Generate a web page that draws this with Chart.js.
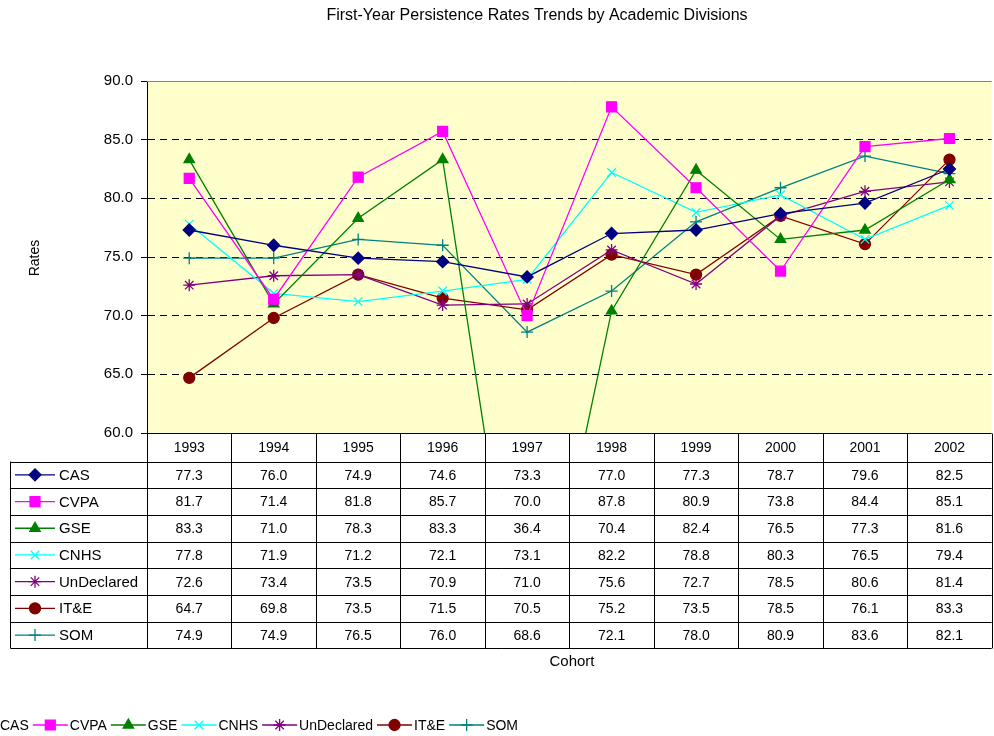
<!DOCTYPE html>
<html>
<head>
<meta charset="utf-8">
<script src="https://cdn.jsdelivr.net/npm/chart.js@4/dist/chart.umd.min.js"></script>
<style>
  html, body { margin:0; padding:0; background:#fff; overflow:hidden; }
  #wrap { width:1000px; height:736px; }
</style>
</head>
<body>
<div id="wrap"><canvas id="chart" width="1000" height="736"></canvas></div>
<script>
const cohorts = ['1993','1994','1995','1996','1997','1998','1999','2000','2001','2002'];
const divisions = ['CAS','CVPA','GSE','CNHS','UnDeclared','IT&E','SOM'];
const cas        = [77.3,76.0,74.9,74.6,73.3,77.0,77.3,78.7,79.6,82.5];
const cvpa       = [81.7,71.4,81.8,85.7,70.0,87.8,80.9,73.8,84.4,85.1];
const gse        = [83.3,71.0,78.3,83.3,36.4,70.4,82.4,76.5,77.3,81.6];
const cnhs       = [77.8,71.9,71.2,72.1,73.1,82.2,78.8,80.3,76.5,79.4];
const undeclared = [72.6,73.4,73.5,70.9,71.0,75.6,72.7,78.5,80.6,81.4];
const ite        = [64.7,69.8,73.5,71.5,70.5,75.2,73.5,78.5,76.1,83.3];
const som        = [74.9,74.9,76.5,76.0,68.6,72.1,78.0,80.9,83.6,82.1];
const yTicks = [60,65,70,75,80,85,90];

const seriesValues = [cas, cvpa, gse, cnhs, undeclared, ite, som];
const colors = ['#000080','#ff00ff','#008000','#00ffff','#800080','#800000','#008080'];
const styles = ['rectRot','rect','triangle','crossRot','star','circle','cross'];
const radii  = [6,7,6,6,6,5.5,6];

const FONT = '"Liberation Sans", Arial, sans-serif';
Chart.defaults.font.family = FONT;
Chart.defaults.color = '#000';

function marker(ctx, i, x, y){
  ctx.save();
  ctx.fillStyle = colors[i];
  ctx.strokeStyle = colors[i];
  ctx.lineWidth = 1.3;
  Chart.helpers.drawPoint(ctx, {pointStyle: styles[i], radius: radii[i], rotation: 0, borderWidth: 1.3}, x, y);
  ctx.restore();
}

// plot background + top border
const bgPlugin = {
  id: 'bg',
  beforeDraw(chart){
    const {ctx, chartArea: a} = chart;
    ctx.save();
    ctx.fillStyle = '#ffffcc';
    ctx.fillRect(a.left, a.top, a.right - a.left, a.bottom - a.top);
    ctx.restore();
  },
  afterDatasetsDraw(chart){
    const {ctx, chartArea: a} = chart;
    ctx.save();
    ctx.strokeStyle = '#808080';
    ctx.lineWidth = 1;
    ctx.beginPath();
    ctx.moveTo(a.left, a.top + 0.5);
    ctx.lineTo(a.right, a.top + 0.5);
    ctx.stroke();
    ctx.restore();
  }
};

// data table, titles, legend
const tablePlugin = {
  id: 'table',
  afterDraw(chart){
    const {ctx, chartArea: a} = chart;
    const xs = chart.scales.x;
    const top = Math.round(a.bottom) + 0.5;
    const headH = 28;
    const rowH = 26.7;
    const labelLeft = 10.5;
    const bottom = top + headH + rowH * divisions.length;
    const colW = (a.right - a.left) / cohorts.length;

    ctx.save();
    ctx.strokeStyle = '#000';
    ctx.lineWidth = 1;
    ctx.beginPath();
    ctx.moveTo(a.left, top); ctx.lineTo(a.right, top);
    for (let r = 0; r <= divisions.length; r++){
      const y = Math.round(top + headH + r * rowH) + 0.5;
      ctx.moveTo(labelLeft, y); ctx.lineTo(a.right, y);
    }
    for (let c = 0; c <= cohorts.length; c++){
      const x = Math.round(a.left + c * colW) + 0.5;
      ctx.moveTo(x, top); ctx.lineTo(x, bottom);
    }
    ctx.moveTo(labelLeft, top + headH); ctx.lineTo(labelLeft, bottom);
    ctx.stroke();

    ctx.font = '14px ' + FONT;
    ctx.fillStyle = '#000';
    ctx.textAlign = 'center';
    ctx.textBaseline = 'middle';
    cohorts.forEach((c, j) => {
      ctx.fillText(c, xs.getPixelForValue(j), top + headH / 2 + 1);
    });
    divisions.forEach((d, i) => {
      const yc = top + headH + rowH * i + rowH / 2 + 1;
      seriesValues[i].forEach((v, j) => {
        ctx.fillStyle = '#000';
        ctx.textAlign = 'center';
        ctx.fillText(v.toFixed(1), xs.getPixelForValue(j), yc);
      });
      ctx.strokeStyle = colors[i];
      ctx.lineWidth = 1.3;
      ctx.beginPath(); ctx.moveTo(15, yc - 1); ctx.lineTo(55, yc - 1); ctx.stroke();
      marker(ctx, i, 35, yc - 1);
      ctx.fillStyle = '#000';
      ctx.textAlign = 'left';
      ctx.font = '15px ' + FONT;
      ctx.fillText(d, 59, yc);
      ctx.font = '14px ' + FONT;
    });

    // title and axis titles
    ctx.textAlign = 'center';
    ctx.font = '16px ' + FONT;
    ctx.fillText('First-Year Persistence Rates Trends by Academic Divisions', 537, 16);
    ctx.font = '15px ' + FONT;
    ctx.fillText('Cohort', 572, 662);
    ctx.font = '14px ' + FONT;
    ctx.save();
    ctx.translate(35, 258);
    ctx.rotate(-Math.PI / 2);
    ctx.fillText('Rates', 0, 0);
    ctx.restore();

    // bottom legend (runs off the left edge like the reference)
    let x = -37;
    const ly = 725;
    ctx.textAlign = 'left';
    divisions.forEach((d, i) => {
      ctx.strokeStyle = colors[i];
      ctx.lineWidth = 1.3;
      ctx.beginPath(); ctx.moveTo(x, ly); ctx.lineTo(x + 35, ly); ctx.stroke();
      marker(ctx, i, x + 17.5, ly);
      ctx.fillStyle = '#000';
      ctx.fillText(d, x + 37, ly + 1);
      x += 37 + ctx.measureText(d).width + 4;
    });
    ctx.restore();
  }
};

new Chart(document.getElementById('chart'), {
  type: 'line',
  data: {
    labels: cohorts,
    datasets: divisions.map((d, i) => ({
      label: d,
      data: seriesValues[i],
      borderColor: colors[i],
      backgroundColor: colors[i],
      borderWidth: 1.3,
      pointStyle: styles[i],
      pointRadius: radii[i],
      pointBorderWidth: 1.3,
      pointHoverRadius: radii[i],
      tension: 0,
      clip: 0
    }))
  },
  options: {
    responsive: false,
    animation: false,
    layout: { padding: { top: 81, bottom: 303, left: 0, right: 1 } },
    plugins: { legend: { display: false }, title: { display: false }, tooltip: { enabled: false } },
    scales: {
      x: { type: 'category', offset: true, display: false },
      y: {
        min: 60, max: 90,
        afterFit(s){ s.width = 147; },
        afterBuildTicks(s){ s.ticks = yTicks.map(v => ({value: v})); },
        ticks: { padding: 8, font: { size: 15 }, color: '#000', callback: v => Number(v).toFixed(1) },
        grid: {
          color: c => (c.tick && (c.tick.value === 60 || c.tick.value === 90)) ? 'rgba(0,0,0,0)' : '#000',
          tickLength: 6,
          tickColor: '#000',
          tickBorderDash: [],
          lineWidth: 1
        },
        border: { display: true, color: '#000', width: 1, dash: [7, 5] }
      }
    }
  },
  plugins: [bgPlugin, tablePlugin]
});
</script>
</body>
</html>
